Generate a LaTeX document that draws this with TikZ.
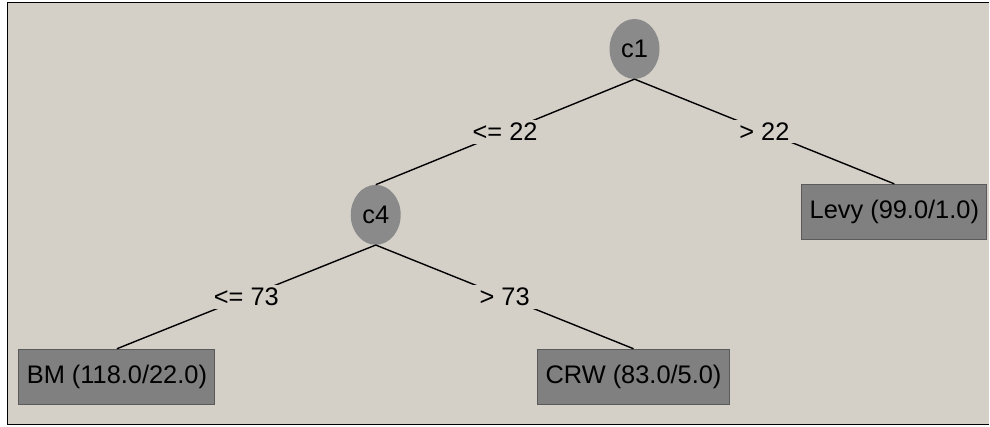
\documentclass[tikz,border=0pt]{standalone}
\usepackage{fontspec}
\setmainfont{Liberation Sans}
\usetikzlibrary{shapes.geometric}
\definecolor{panelGray}{HTML}{D4D0C8}
\definecolor{splitGray}{HTML}{8A8A8A}
\definecolor{leafGray}{HTML}{808080}
\definecolor{leafEdge}{HTML}{5A5A5A}
\newcommand{\treefont}{\fontsize{25.5}{29}\selectfont}

\begin{document}
\begin{tikzpicture}[
    x=1bp, y=-1bp,
    split/.style={ellipse, fill=splitGray, minimum width=50bp, minimum height=60bp,
                  inner sep=0pt, font=\treefont},
    leaf/.style={rectangle, fill=leafGray, draw=leafEdge, line width=1bp,
                 minimum height=55bp, inner xsep=8bp, font=\treefont},
    branch/.style={line width=1.4bp, color=black},
    cond/.style={fill=panelGray, inner xsep=8bp, inner ysep=3bp, font=\treefont}
]

% Panel
\fill[white] (0,0) rectangle (990,427);
\fill[panelGray] (7,2) rectangle (990,425);
\draw[line width=1.5bp] (990,2.5) -- (7.5,2.5) -- (7.5,425) -- (990,425);

% Split nodes
\node[split] (c1) at (635,49) {c1};
\node[split] (c4) at (376,215) {c4};

% Leaves
\node[leaf] (levy) at (895,212) {Levy (99.0/1.0)};
\node[leaf] (bm) at (117,377) {BM (118.0/22.0)};
\node[leaf] (crw) at (634,377) {CRW (83.0/5.0)};

% Branches
\draw[branch] (c1.south) -- node[cond] {<= 22} (c4.north);
\draw[branch] (c1.south) -- node[cond] {> 22} (levy.north);
\draw[branch] (c4.south) -- node[cond] {<= 73} (bm.north);
\draw[branch] (c4.south) -- node[cond] {> 73} (crw.north);

\end{tikzpicture}
\end{document}
